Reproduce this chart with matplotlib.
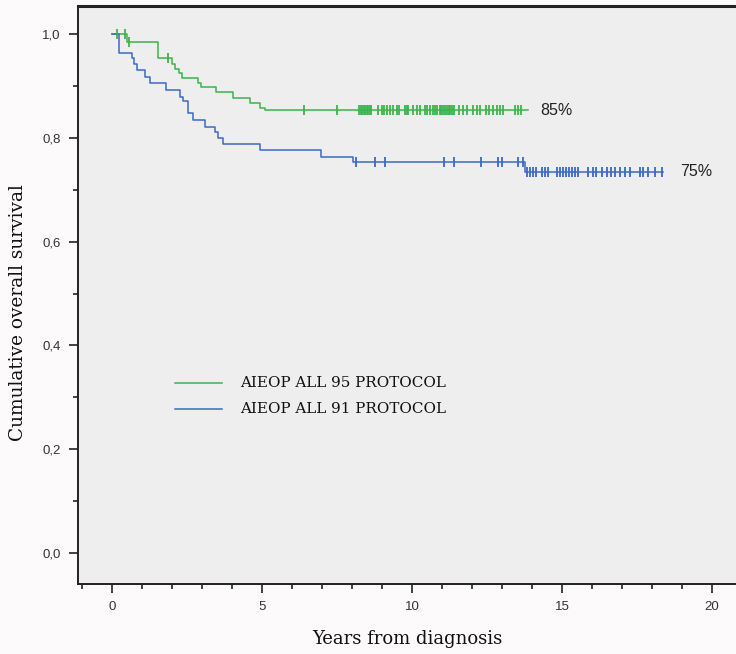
import matplotlib
matplotlib.use("Agg")
import matplotlib.pyplot as plt
import numpy as np

# ---- data ----
# AIEOP ALL 95: event times (years) and survival level after each event
g95_times = [0.0, 0.49, 1.55, 1.99, 2.10, 2.22, 2.35, 2.88, 2.96, 3.47, 4.02, 4.60, 4.93, 5.10]
g95_surv = [1.0, 0.984, 0.953, 0.943, 0.933, 0.924, 0.915, 0.906, 0.897, 0.888, 0.876, 0.867, 0.858, 0.853]
g95_end = 13.88
g95_censor = [0.17, 0.43, 0.57, 1.88, 6.40, 7.49,
              8.25, 8.30, 8.35, 8.40, 8.45, 8.50, 8.55, 8.60, 8.65,
              8.88, 8.99, 9.07, 9.18, 9.27, 9.38, 9.51, 9.58,
              9.78, 9.83, 9.88, 10.04, 10.18, 10.27, 10.43, 10.51, 10.60, 10.69, 10.77, 10.84,
              10.92, 10.98, 11.04, 11.10, 11.16, 11.22, 11.28, 11.34, 11.40,
              11.58, 11.69, 11.82, 12.04, 12.16, 12.27, 12.47, 12.58, 12.69, 12.82, 12.93, 13.04,
              13.45, 13.55, 13.65]

# AIEOP ALL 91
g91_times = [0.0, 0.24, 0.66, 0.73, 0.84, 1.10, 1.27, 1.80, 2.27, 2.38, 2.54, 2.71, 3.10, 3.43, 3.54, 3.71,
             4.93, 6.96, 8.04, 13.77]
g91_surv = [1.0, 0.963, 0.953, 0.943, 0.931, 0.918, 0.906, 0.892, 0.879, 0.870, 0.847, 0.834, 0.821, 0.812,
            0.799, 0.788, 0.776, 0.764, 0.754, 0.735]
g91_end = 18.38
g91_censor = [8.13, 8.77, 9.10, 11.07, 11.40, 12.29, 12.88, 12.99, 13.54, 13.71,
              13.85, 13.95, 14.05, 14.15, 14.35, 14.45, 14.55,
              14.85, 14.95, 15.05, 15.15, 15.25, 15.35, 15.45, 15.54, 15.87,
              16.05, 16.15, 16.32, 16.49, 16.65, 16.76, 16.93, 17.10, 17.26,
              17.60, 17.70, 17.87, 18.10, 18.32]

series_labels = ["AIEOP ALL 95 PROTOCOL", "AIEOP ALL 91 PROTOCOL"]
end_labels = ["85%", "75%"]
x_ticks = [0, 5, 10, 15, 20]
y_ticks = [0.0, 0.2, 0.4, 0.6, 0.8, 1.0]

green = "#3db34c"
blue = "#3a69c4"

fig = plt.figure(figsize=(7.36, 6.54), dpi=100)
fig.patch.set_facecolor("#fcfafa")
ax = fig.add_axes([78/736, 1-584/654, 1-78/736, (584-6)/654])
ax.set_facecolor("#eeeeee")


def surv_at(times, surv, t):
    idx = np.searchsorted(times, t, side="right") - 1
    return surv[idx]


def draw(times, surv, end, censor, color, ms):
    xs = list(times) + [end]
    ys = list(surv) + [surv[-1]]
    ax.step(xs, ys, where="post", color=color, lw=1.1, zorder=3)
    cy = [surv_at(times, surv, c) for c in censor]
    ax.plot(censor, cy, ls="none", marker="|", ms=ms, mew=1.3, color=color, zorder=4)


draw(g95_times, g95_surv, g95_end, g95_censor, green, 7.5)
draw(g91_times, g91_surv, g91_end, g91_censor, blue, 6.5)

serif = ["DejaVu Serif"]
ax.text(14.27, g95_surv[-1], end_labels[0], fontsize=11.5, family="Liberation Sans",
        va="center", ha="left", color="#222222")
ax.text(18.93, g91_surv[-1], end_labels[1], fontsize=11.5, family="Liberation Sans",
        va="center", ha="left", color="#222222")

# legend drawn inside the plot
ax.plot([2.1, 3.67], [0.328, 0.328], color=green, lw=1.1)
ax.plot([2.1, 3.67], [0.278, 0.278], color=blue, lw=1.1)
ax.text(4.27, 0.328, series_labels[0], fontsize=10.9, family=serif, va="center", ha="left", color="#111111")
ax.text(4.27, 0.278, series_labels[1], fontsize=10.9, family=serif, va="center", ha="left", color="#111111")

ax.set_xlim(-1.133, 20.8)
ax.set_ylim(-0.0597, 1.054)
ax.set_xticks(x_ticks)
ax.set_xticks(np.arange(-1, 21, 1), minor=True)
ax.set_yticks(y_ticks)
ax.set_yticks(np.arange(0.1, 1.0, 0.2), minor=True)
ax.set_yticklabels([f"{v:.1f}".replace(".", ",") for v in y_ticks])
ax.set_xticklabels([str(v) for v in x_ticks])
for lab in ax.get_xticklabels() + ax.get_yticklabels():
    lab.set_family("Liberation Sans")
    lab.set_fontsize(9.5)
    lab.set_color("#333333")
ax.tick_params(axis="both", which="major", direction="out", length=6.5, width=1.2, color="#222222", pad=6)
ax.tick_params(axis="both", which="minor", direction="out", length=3.6, width=1.2, color="#222222")

for s in ["left", "bottom", "top"]:
    ax.spines[s].set_color("#222222")
    ax.spines[s].set_linewidth(1.4)
ax.spines["top"].set_linewidth(2.2)
ax.spines["right"].set_visible(False)

ax.set_xlabel("Years from diagnosis", fontsize=13, family=serif, labelpad=12, color="#111111")
ax.set_ylabel("Cumulative overall survival", fontsize=13.3, family=serif, labelpad=11, color="#111111")
ax.yaxis.set_label_coords(-0.078, 0.47)

fig.savefig("out.png", dpi=100, facecolor=fig.get_facecolor())
